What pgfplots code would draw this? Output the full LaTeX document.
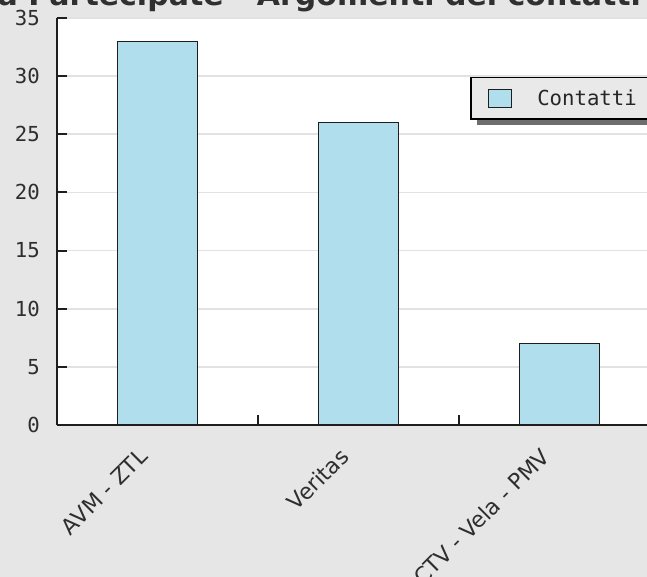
\documentclass[border=0pt]{standalone}
\usepackage{fontspec}
\setmainfont{DejaVu Sans}
\newfontfamily\monofont{DejaVu Sans Mono}
\usepackage{pgfplots}
\pgfplotsset{compat=1.18}
\usetikzlibrary{shadows}

\definecolor{bgcol}{HTML}{E6E6E6}
\definecolor{barblue}{HTML}{B0DEEC}
\definecolor{barborder}{HTML}{1E1E1E}
\definecolor{gridcol}{HTML}{E2E2E2}
\definecolor{axiscol}{HTML}{1E1E1E}
\definecolor{tickcol}{HTML}{2E2E2E}
\definecolor{titlecol}{HTML}{303030}
\definecolor{legendbg}{HTML}{E9E9E9}
\definecolor{shadowcol}{HTML}{6E6E6E}

\begin{document}
\begin{tikzpicture}
% 1 px of the reference = 0.75pt; picture is 647 x 577 px
\useasboundingbox (0pt,0pt) rectangle (485.25pt,432.75pt);
\fill[bgcol] (0pt,0pt) rectangle (485.25pt,432.75pt);
\clip (0pt,0pt) rectangle (485.25pt,432.75pt);

\node[anchor=base west, inner sep=0pt, text=titlecol,
      font=\fontsize{22.5}{27}\selectfont\bfseries] at (21pt,428.4pt)
      {\llap{Società }Partecipate - Argomenti dei contatti};

\begin{axis}[
    at={(42.75pt,114pt)}, anchor=south west,
    scale only axis,
    width=452.25pt, height=305.25pt,
    ybar, bar width=60pt,
    xmin=-0.5, xmax=2.5,
    ymin=0, ymax=35,
    enlargelimits=false,
    axis lines*=left,
    axis line style={draw=axiscol, line width=1.4pt},
    axis background/.style={fill=white},
    tick align=inside,
    major tick length=7.5pt,
    tick style={draw=axiscol, line width=1.4pt},
    ytick={0,5,...,35},
    ymajorgrids,
    grid style={draw=gridcol, line width=1.2pt},
    xtick={-0.5,0.5,1.5,2.5},
    x tick label as interval,
    xticklabels={AVM - ZTL, Veritas, ACTV - Vela - PMV, {}},
    /pgf/number format/assume math mode=true,
    yticklabel style={font=\monofont\fontsize{15.5}{18}\selectfont,
        text=tickcol, inner sep=0pt, anchor=east, xshift=-12.75pt},
    xticklabel style={font=\fontsize{16.5}{20}\selectfont, text=tickcol,
        inner sep=0pt, anchor=north east, xshift=-15pt, yshift=-16pt,
        rotate=45},
    legend style={at={(rel axis cs:0.685,0.855)}, anchor=north west,
        fill=legendbg, draw=black, line width=1.1pt,
        inner xsep=12.75pt, inner ysep=8.25pt,
        font=\monofont\fontsize{15.5}{18}\selectfont, text=black!85,
        drop shadow={shadow xshift=4.5pt, shadow yshift=-4.5pt,
            fill=shadowcol, opacity=1},
        nodes={inner sep=0pt},
        /tikz/every odd column/.append style={column sep=18.75pt}},
    legend image code/.code={
        \pgfsetlinewidth{1.1pt}%
        \pgfsetstrokecolor{barborder}%
        \pgfsetfillcolor{barblue}%
        \pgfpathrectangle{\pgfpoint{0pt}{-6.75pt}}{\pgfpoint{17.25pt}{13.5pt}}%
        \pgfusepath{fill,stroke}},
]
\addplot[fill=barblue, draw=barborder, line width=1.1pt]
    coordinates {(0,33) (1,26) (2,7)};
\addlegendentry{Contatti}
\end{axis}
\end{tikzpicture}
\end{document}
